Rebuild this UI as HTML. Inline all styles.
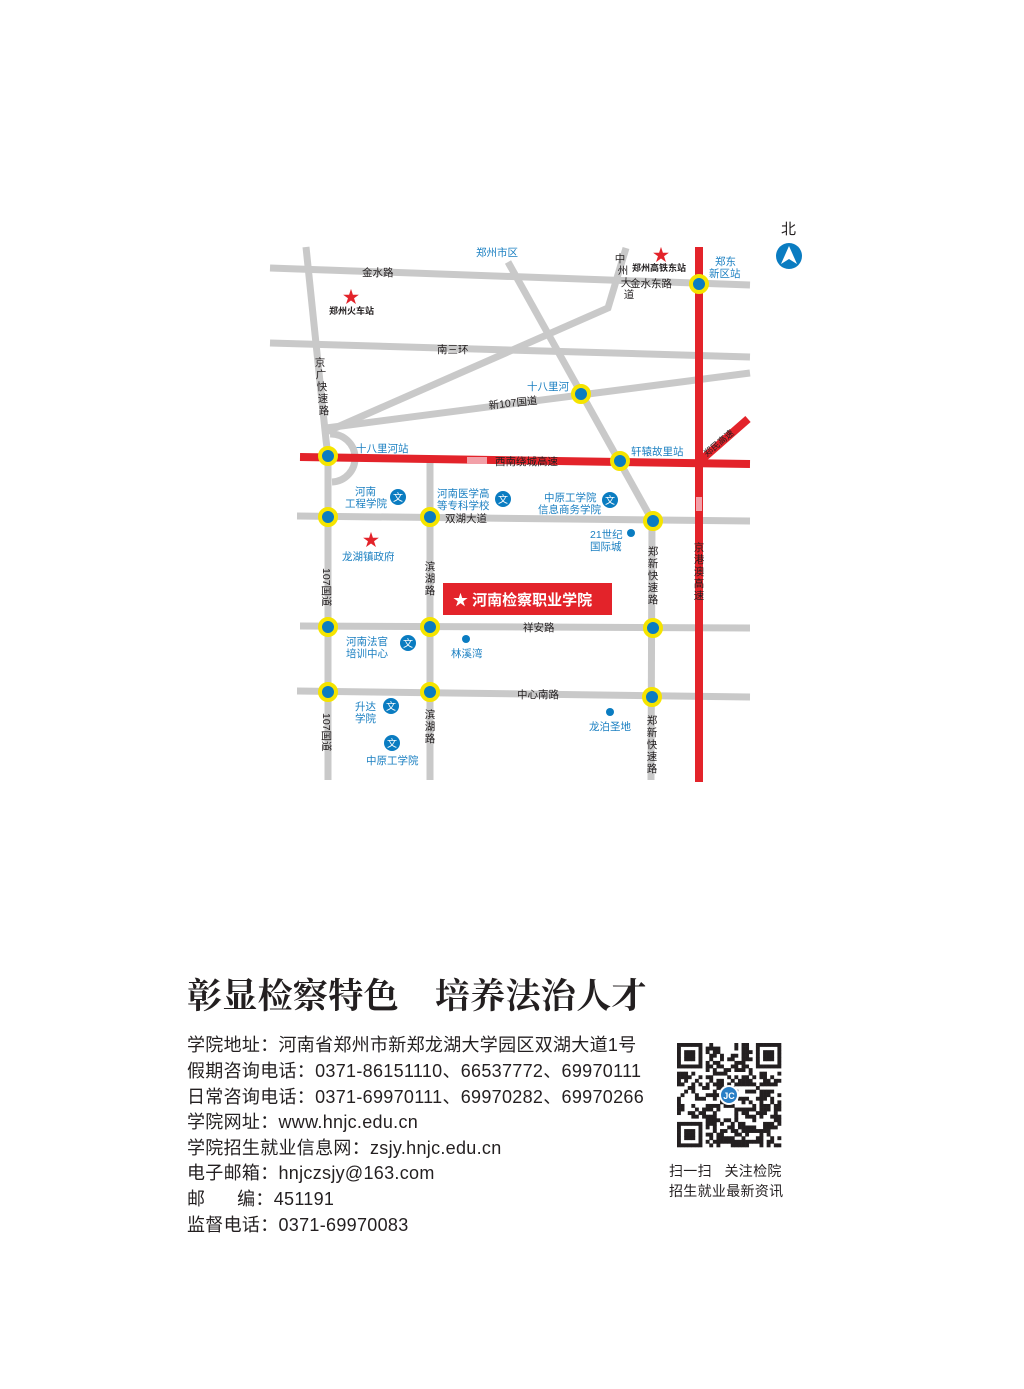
<!DOCTYPE html>
<html><head><meta charset="utf-8">
<style>
html,body{margin:0;padding:0;background:#fff;}
body{width:1024px;height:1389px;position:relative;overflow:hidden;font-family:"Liberation Sans","Noto Sans CJK SC",sans-serif;}
svg text{font-family:"Liberation Sans","Noto Sans CJK SC",sans-serif;}
.t{position:absolute;left:187px;font-size:18px;color:#231f20;white-space:nowrap;letter-spacing:0.3px}
</style></head><body>
<svg width="1024" height="1389" style="position:absolute;left:0;top:0">
<g stroke="#c9c9c9" stroke-width="7" fill="none" stroke-linecap="butt">
<line x1="270" y1="268" x2="750" y2="285"/>
<line x1="270" y1="343" x2="750" y2="357"/>
<polyline points="306,247 326,440 328,456 328,780"/>
<path d="M330,434 A24,24 0 0 1 332,482"/>
<line x1="326" y1="428" x2="750" y2="373"/>
<polyline points="626,248 608,308 326,432"/>
<line x1="508" y1="262" x2="652" y2="520"/>
<line x1="297" y1="516" x2="750" y2="521"/>
<line x1="430" y1="462" x2="430" y2="780"/>
<line x1="300" y1="626" x2="750" y2="628"/>
<line x1="297" y1="691" x2="750" y2="697"/>
<line x1="652" y1="520" x2="651" y2="780"/>
</g>
<g stroke="#e3232a" stroke-width="8" fill="none">
<line x1="699" y1="247" x2="699" y2="782"/>
<line x1="300" y1="457" x2="750" y2="464"/>
<line x1="699" y1="462" x2="748" y2="419"/>
</g>
<rect x="467" y="457" width="20" height="7" fill="#f2a0a8"/>
<rect x="696" y="497" width="6" height="14" fill="#f2a0a8"/>
<g fill="#0a7cc1" stroke="#f5e400" stroke-width="4">
<circle cx="699" cy="284" r="8"/><circle cx="581" cy="394" r="8"/>
<circle cx="328" cy="456" r="8"/><circle cx="620" cy="461" r="8"/>
<circle cx="328" cy="517" r="8"/><circle cx="430" cy="517" r="8"/><circle cx="653" cy="521" r="8"/>
<circle cx="328" cy="627" r="8"/><circle cx="430" cy="627" r="8"/><circle cx="653" cy="628" r="8"/>
<circle cx="328" cy="692" r="8"/><circle cx="430" cy="692" r="8"/><circle cx="652" cy="697" r="8"/>
</g>
<g fill="#0a7cc1"><circle cx="631" cy="533" r="4"/><circle cx="466" cy="639" r="4"/><circle cx="610" cy="712" r="4"/></g>
<g fill="#0a7cc1">
<circle cx="398" cy="497" r="8"/><circle cx="503" cy="499" r="8"/><circle cx="610" cy="500" r="8"/>
<circle cx="408" cy="643" r="8"/><circle cx="391" cy="706" r="8"/><circle cx="392" cy="743" r="8"/>
</g>
<g fill="#fff" font-size="10" text-anchor="middle">
<text x="398" y="501">文</text><text x="503" y="503">文</text><text x="610" y="504">文</text>
<text x="408" y="647">文</text><text x="391" y="710">文</text><text x="392" y="747">文</text>
</g>
<g fill="#e3232a" font-size="17" text-anchor="middle">
<text x="351" y="303">★</text><text x="661" y="261">★</text><text x="371" y="546">★</text>
</g>
<g font-size="10.5" fill="#231f20">
<text x="362" y="276">金水路</text>
<text x="630" y="287">金水东路</text>
<text x="437" y="353">南三环</text>
<text x="489" y="409" transform="rotate(-6 489 409)">新107国道</text>
<text x="495" y="465">西南绕城高速</text>
<text x="445" y="522">双湖大道</text>
<text x="523" y="631">祥安路</text>
<text x="517" y="698">中心南路</text>
<text x="329" y="314" font-weight="bold" font-size="9">郑州火车站</text>
<text x="632" y="271" font-weight="bold" font-size="9">郑州高铁东站</text>
</g>
<g font-size="10.5" fill="#231f20" text-anchor="middle">
<text x="320" y="366">京</text><text x="321" y="378">广</text><text x="322" y="390">快</text><text x="323" y="402">速</text><text x="324" y="414">路</text>
<text x="430" y="570">滨</text><text x="430" y="582">湖</text><text x="430" y="594">路</text>
<text x="430" y="718">滨</text><text x="430" y="730">湖</text><text x="430" y="742">路</text>
<text x="653" y="555">郑</text><text x="653" y="567">新</text><text x="653" y="579">快</text><text x="653" y="591">速</text><text x="653" y="603">路</text>
<text x="652" y="724">郑</text><text x="652" y="736">新</text><text x="652" y="748">快</text><text x="652" y="760">速</text><text x="652" y="772">路</text>
<text x="699" y="551">京</text><text x="699" y="563">港</text><text x="699" y="575">澳</text><text x="699" y="587">高</text><text x="699" y="599">速</text>
<text x="620" y="262">中</text><text x="623" y="274">州</text><text x="626" y="286">大</text><text x="629" y="298">道</text>
</g>
<text x="323" y="568" font-size="10.5" fill="#231f20" transform="rotate(90 323 568)">107国道</text>
<text x="323" y="713" font-size="10.5" fill="#231f20" transform="rotate(90 323 713)">107国道</text>
<text x="707" y="457" font-size="9" fill="#231f20" transform="rotate(-40 707 457)">郑民高速</text>
<g font-size="10.5" fill="#1a7fc1">
<text x="476" y="256">郑州市区</text>
<text x="715" y="265">郑东</text><text x="709" y="277">新区站</text>
<text x="527" y="390">十八里河</text>
<text x="356" y="452">十八里河站</text>
<text x="631" y="455">轩辕故里站</text>
<text x="355" y="495">河南</text><text x="345" y="507">工程学院</text>
<text x="437" y="497">河南医学高</text><text x="437" y="509">等专科学校</text>
<text x="544" y="501">中原工学院</text><text x="538" y="513">信息商务学院</text>
<text x="590" y="538">21世纪</text><text x="590" y="550">国际城</text>
<text x="342" y="560">龙湖镇政府</text>
<text x="346" y="645">河南法官</text><text x="346" y="657">培训中心</text>
<text x="451" y="657">林溪湾</text>
<text x="355" y="710">升达</text><text x="355" y="722">学院</text>
<text x="366" y="764">中原工学院</text>
<text x="589" y="730">龙泊圣地</text>
</g>
<rect x="443" y="583" width="169" height="32" fill="#e3232a"/>
<text x="453" y="605" font-size="15" font-weight="bold" fill="#fff">★ 河南检察职业学院</text>
<text x="781" y="234" font-size="15" fill="#231f20">北</text>
<circle cx="789" cy="256" r="13" fill="#0a7cc1"/>
<polygon points="789,246 797,264 789,259 781,264" fill="#fff"/>
<g id="qr"></g>
</svg>
<div style="position:absolute;left:187px;top:969px;font-family:'Liberation Serif','Noto Serif CJK SC',serif;font-weight:bold;font-size:35px;color:#231f20;white-space:nowrap;letter-spacing:0.3px">彰显检察特色&nbsp;&nbsp;&nbsp;&nbsp;培养法治人才</div>
<div class="t" style="top:1031px">学院地址：河南省郑州市新郑龙湖大学园区双湖大道1号</div>
<div class="t" style="top:1057px">假期咨询电话：0371-86151110、66537772、69970111</div>
<div class="t" style="top:1083px">日常咨询电话：0371-69970111、69970282、69970266</div>
<div class="t" style="top:1108px">学院网址：www.hnjc.edu.cn</div>
<div class="t" style="top:1134px">学院招生就业信息网：zsjy.hnjc.edu.cn</div>
<div class="t" style="top:1159px">电子邮箱：hnjczsjy@163.com</div>
<div class="t" style="top:1185px">邮&nbsp;&nbsp;&nbsp;&nbsp;&nbsp;&nbsp;编：451191</div>
<div class="t" style="top:1211px">监督电话：0371-69970083</div>
<div style="position:absolute;left:669px;top:1161px;font-size:14px;color:#231f20;line-height:20px;white-space:nowrap;letter-spacing:0.3px">扫一扫&nbsp;&nbsp;&nbsp;关注检院<br>招生就业最新资讯</div>
<script>
(function(){
var g=document.getElementById('qr'),x0=677,y0=1043,n=29,s=104/29,seed=7,h='';
function r(){seed=(seed*1103515245+12345)&0x7fffffff;return seed/0x7fffffff;}
for(var i=0;i<n;i++)for(var j=0;j<n;j++){
 var f=null;
 [[0,0],[0,22],[22,0]].forEach(function(p){var a=i-p[0],b=j-p[1];if(a>=0&&b>=0&&a<7&&b<7){f=(a==0||a==6||b==0||b==6||(a>=2&&a<=4&&b>=2&&b<=4));}else if(a>=-1&&b>=-1&&a<8&&b<8&&f===null)f=false;});
 if(f===null)f=r()<0.5;
 if(f)h+='<rect x="'+(x0+j*s).toFixed(2)+'" y="'+(y0+i*s).toFixed(2)+'" width="'+(s+0.3).toFixed(2)+'" height="'+(s+0.3).toFixed(2)+'" fill="#231f20"/>';
}
h+='<circle cx="729" cy="1095" r="10" fill="#fff"/><circle cx="729" cy="1095" r="8" fill="#2a7fc6"/><text x="729" y="1099" font-size="9" fill="#fff" text-anchor="middle" font-weight="bold">JC</text>';
g.innerHTML=h;
})();
</script>
</body></html>
